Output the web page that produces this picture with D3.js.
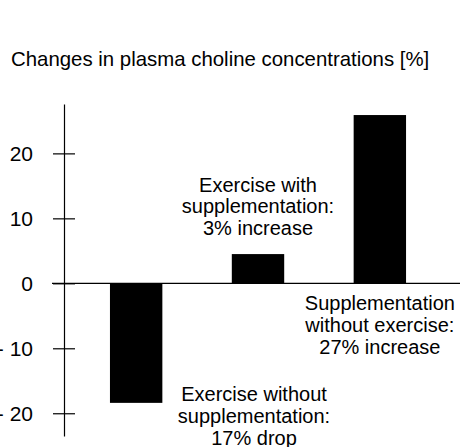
<!DOCTYPE html>
<html>
<head>
<meta charset="utf-8">
<script src="https://cdn.jsdelivr.net/npm/d3@7"></script>
<style>
	body { margin: 0; background: #fff; }
	text { font-family: 'Liberation Sans', Arial, sans-serif; fill: #000; }
</style>
</head>
<body>
<div id="chart"></div>
<script>
var titleText = 'Changes in plasma choline concentrations [%]';
var categories = ['Exercise without supplementation', 'Exercise with supplementation', 'Supplementation without exercise'];
var changes = [-18.4, 4.5, 25.9];
var yTicks = [-20, -10, 0, 10, 20];
var notes = [
	['Exercise without', 'supplementation:', '17% drop'],
	['Exercise with', 'supplementation:', '3% increase'],
	['Supplementation', 'without exercise:', '27% increase']
];

var width = 460;
var height = 447;
var axisX = 64;
var lineHeight = 21.7;

var svg = d3.select('#chart')
	.append('svg')
	.attr('width', width)
	.attr('height', height);

var x = d3.scaleBand()
	.domain(categories)
	.range([axisX, width])
	.paddingInner(0.57)
	.paddingOuter(0.41)
	.align(0.46);

var y = d3.scaleLinear()
	.domain([-23.5, 27.6])
	.range([436, 104]);

svg.append('text')
	.attr('x', 11)
	.attr('y', 66)
	.style('font-size', '20.4px')
	.text(titleText);

// bars
svg.append('g').selectAll('rect')
	.data(changes)
	.enter()
	.append('rect')
	.attr('x', function(d, i) { return x(categories[i]); })
	.attr('width', x.bandwidth())
	.attr('y', function(d) { return y(Math.max(0, d)); })
	.attr('height', function(d) { return Math.abs(y(d) - y(0)); })
	.attr('fill', '#000');

// zero line
svg.append('line')
	.attr('x1', axisX - 12)
	.attr('x2', width)
	.attr('y1', y(0))
	.attr('y2', y(0))
	.attr('stroke', '#000')
	.attr('stroke-width', 1.2);

var axis = d3.axisLeft(y)
	.tickValues(yTicks)
	.tickSizeInner(11)
	.tickSizeOuter(0)
	.tickPadding(20)
	.tickFormat(function(d) {
		return d < 0 ? '- ' + Math.abs(d) : d;
	});

var axisGroup = svg.append('g')
	.attr('transform', 'translate(' + axisX + ',0)')
	.call(axis);

axisGroup.select('.domain')
	.attr('stroke-width', 1.2);
axisGroup.selectAll('.tick line')
	.attr('x1', 11)
	.attr('stroke-width', 1.2);
axisGroup.selectAll('.tick text')
	.attr('font-family', null)
	.attr('font-size', null)
	.style('font-size', '21px')
	.attr('dy', '0.36em');

// annotations
var step = x.step();
var noteX = function(i) {
	var c = x(categories[i]) + x.bandwidth() / 2;
	return i === 0 ? c + step - 4 : c;
};
var noteY = function(i) {
	if (i === 0) return y(changes[0]) - 1.5;
	if (i === 1) return y(changes[1]) - 19 - 2 * lineHeight;
	return y(0) + 27;
};

var noteGroups = svg.append('g').selectAll('text')
	.data(notes)
	.enter()
	.append('text')
	.attr('text-anchor', 'middle')
	.style('font-size', '20px')
	.attr('transform', function(d, i) {
		return 'translate(' + noteX(i) + ',' + noteY(i) + ')';
	});

noteGroups.selectAll('tspan')
	.data(function(d) { return d; })
	.enter()
	.append('tspan')
	.attr('x', 0)
	.attr('y', function(d, j) { return j * lineHeight; })
	.text(function(d) { return d; });
</script>
</body>
</html>
